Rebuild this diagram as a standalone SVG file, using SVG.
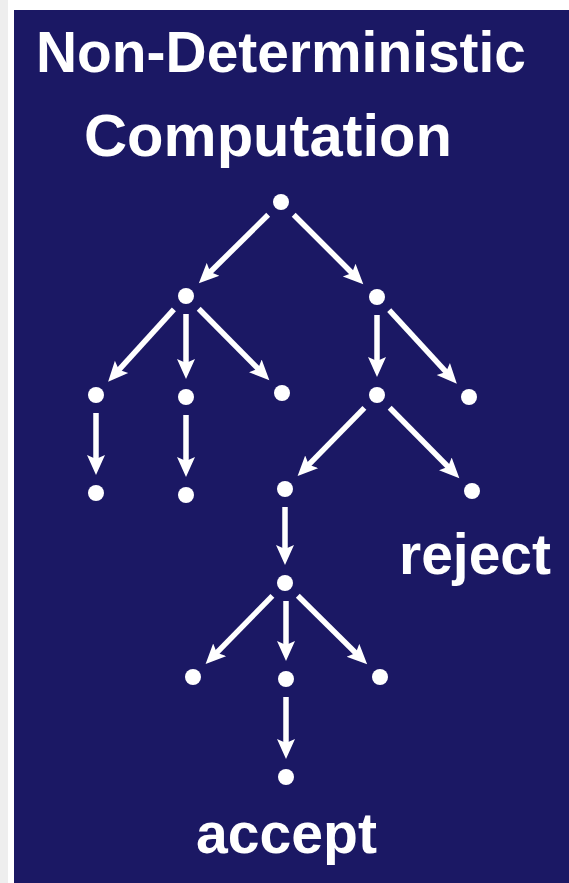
<svg xmlns="http://www.w3.org/2000/svg" width="569" height="883" viewBox="0 0 569 883">
  <style>
    .lbl { font-family: "Liberation Sans", Arial, sans-serif; font-weight: bold; font-size: 57px; fill: #ffffff; }
    .node { fill: #ffffff; }
    .edge { stroke: #ffffff; stroke-width: 5.5; fill: none; marker-end: url(#arrow); }
  </style>
  <defs>
    <marker id="arrow" markerUnits="userSpaceOnUse" markerWidth="22" markerHeight="20" viewBox="0 -10 22 20" refX="5" refY="0" orient="auto">
      <path d="M0,-9 L20,0 L0,9 L4,0 Z" fill="#ffffff"/>
    </marker>
  </defs>
  <rect x="0" y="0" width="569" height="883" fill="#ffffff"/>
  <rect x="0" y="0" width="8" height="883" fill="#eeeeee"/>
  <rect x="14" y="10" width="555" height="873" fill="#1b1864"/>

  <g id="title">
    <text class="lbl" x="36" y="72" textLength="490" lengthAdjust="spacingAndGlyphs">Non-Deterministic</text>
    <text class="lbl" x="84" y="156" textLength="368" lengthAdjust="spacingAndGlyphs" style="font-size:59px">Computation</text>
  </g>

  <g id="connectors">
    <line class="edge" x1="268.2" y1="214.7" x2="209.5" y2="272.8"/>
    <line class="edge" x1="293.7" y1="214.7" x2="352.7" y2="273.7"/>
    <line class="edge" x1="173.9" y1="309.3" x2="118.2" y2="370.6"/>
    <line class="edge" x1="186" y1="314" x2="186" y2="364"/>
    <line class="edge" x1="198.7" y1="308.8" x2="258.8" y2="369.5"/>
    <line class="edge" x1="377" y1="315" x2="377" y2="362"/>
    <line class="edge" x1="389.2" y1="310.2" x2="446.7" y2="372.7"/>
    <line class="edge" x1="96" y1="413" x2="96" y2="460"/>
    <line class="edge" x1="186" y1="415" x2="186" y2="462"/>
    <line class="edge" x1="364.4" y1="407.9" x2="308.1" y2="465.4"/>
    <line class="edge" x1="389.7" y1="407.8" x2="448.8" y2="467.5"/>
    <line class="edge" x1="285" y1="507" x2="285" y2="550"/>
    <line class="edge" x1="272.4" y1="595.9" x2="216.1" y2="653.4"/>
    <line class="edge" x1="286" y1="601" x2="286" y2="646"/>
    <line class="edge" x1="297.8" y1="595.7" x2="356.5" y2="653.8"/>
    <line class="edge" x1="286" y1="697" x2="286" y2="744"/>
  </g>

  <g id="n-root"><circle class="node" cx="281" cy="202" r="8"/></g>
  <g id="n-a"><circle class="node" cx="186" cy="296" r="8"/></g>
  <g id="n-b"><circle class="node" cx="377" cy="297" r="8"/></g>
  <g id="n-a1"><circle class="node" cx="96" cy="395" r="8"/></g>
  <g id="n-a2"><circle class="node" cx="186" cy="397" r="8"/></g>
  <g id="n-a3"><circle class="node" cx="282" cy="393" r="8"/></g>
  <g id="n-b1"><circle class="node" cx="377" cy="395" r="8"/></g>
  <g id="n-b2"><circle class="node" cx="469" cy="397" r="8"/></g>
  <g id="n-a1a"><circle class="node" cx="96" cy="493" r="8"/></g>
  <g id="n-a2a"><circle class="node" cx="186" cy="495" r="8"/></g>
  <g id="n-b1a"><circle class="node" cx="285" cy="489" r="8"/></g>
  <g id="n-b1b"><circle class="node" cx="472" cy="491" r="8"/>
    <text class="lbl" x="399" y="574" textLength="152" lengthAdjust="spacingAndGlyphs">reject</text>
  </g>
  <g id="n-c"><circle class="node" cx="285" cy="583" r="8"/></g>
  <g id="n-c1"><circle class="node" cx="193" cy="677" r="8"/></g>
  <g id="n-c2"><circle class="node" cx="286" cy="679" r="8"/></g>
  <g id="n-c3"><circle class="node" cx="380" cy="677" r="8"/></g>
  <g id="n-d"><circle class="node" cx="286" cy="777" r="8"/>
    <text class="lbl" x="196" y="853" textLength="181" lengthAdjust="spacingAndGlyphs">accept</text>
  </g>
</svg>
